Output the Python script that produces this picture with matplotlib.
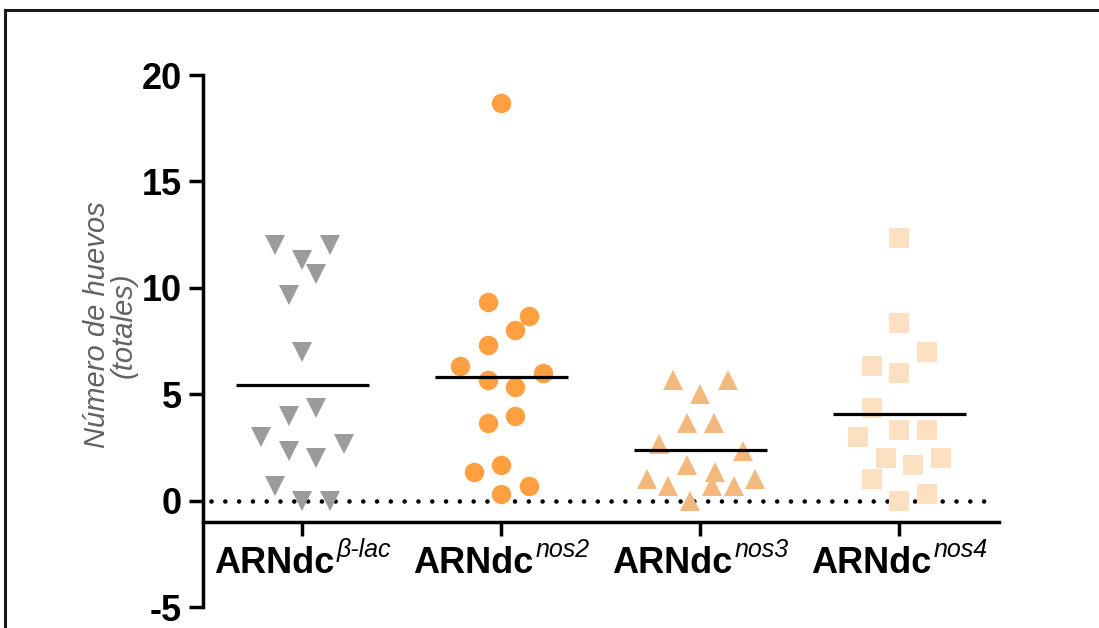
import matplotlib
matplotlib.use('Agg')
import matplotlib.pyplot as plt
from matplotlib.lines import Line2D
import numpy as np

# --- データ (各グループ n=15) ---
groups = ['ARNdc', 'ARNdc', 'ARNdc', 'ARNdc']
group_sup = ['β-lac', 'nos2', 'nos3', 'nos4']

blac = [12.0, 12.0, 11.33, 10.67, 9.67, 7.0, 4.33, 4.0, 3.0, 2.67, 2.33, 2.0, 0.67, 0.0, 0.0]
nos2 = [18.67, 9.33, 8.67, 8.0, 7.33, 6.33, 6.0, 5.67, 5.33, 4.0, 3.67, 1.67, 1.33, 0.67, 0.33]
nos3 = [5.67, 5.67, 5.0, 3.67, 3.67, 2.67, 2.33, 1.67, 1.33, 1.0, 1.0, 0.67, 0.67, 0.67, 0.0]
nos4 = [12.33, 8.33, 7.0, 6.33, 6.0, 4.33, 3.33, 3.33, 3.0, 2.0, 2.0, 1.67, 1.0, 0.33, 0.0]

# scatter の横ずれ (読み取り値)
blac_dx = [-0.14, 0.14, 0, 0.07, -0.07, 0, 0.07, -0.07, -0.21, 0.21, -0.07, 0.07, -0.14, 0, 0.14]
nos2_dx = [0, -0.07, 0.14, 0.07, -0.07, -0.21, 0.21, -0.07, 0.07, 0.07, -0.07, 0, -0.14, 0.14, 0]
nos3_dx = [-0.14, 0.14, 0, -0.07, 0.07, -0.21, 0.215, -0.068, 0.075, -0.27, 0.275, -0.163, 0.06, 0.166, -0.055]
nos4_dx = [0, 0, 0.14, -0.14, 0, -0.14, 0, 0.14, -0.21, -0.07, 0.21, 0.07, -0.14, 0.14, 0]

series = [blac, nos2, nos3, nos4]
offsets = [blac_dx, nos2_dx, nos3_dx, nos4_dx]
markers = ['v', 'o', '^', 's']
colors = ['#9b9b9f', '#ff9f40', '#f2b87e', '#fde0c2']

# --- フォント設定 ---
plt.rcParams['font.family'] = ['Liberation Sans', 'DejaVu Sans']
plt.rcParams['axes.unicode_minus'] = False

W, H = 1099, 628
fig = plt.figure(figsize=(W / 100, H / 100), dpi=100, facecolor='white')
ax = fig.add_axes([0.1847, 0.0334, 0.7243, 0.8471])
ax.patch.set_visible(False)

# ゼロの点線
ax.hlines(0, -0.46, 3.48, colors='black', linewidth=3.3,
          linestyles=(0, (0.01, 3.0)), capstyle='round', zorder=1)

for i, (vals, dx) in enumerate(zip(series, offsets)):
    x = i + np.array(dx)
    ax.plot(x, vals, linestyle='none', marker=markers[i], markersize=14,
            markerfacecolor=colors[i], markeredgewidth=0, zorder=2)
    m = np.mean(vals)
    ax.hlines(m, i - 0.334, i + 0.334, colors='black', linewidth=2.3, zorder=3)

ax.set_xlim(-0.5, 3.5)
ax.set_ylim(-5, 20)
ax.set_yticks([-5, 0, 5, 10, 15, 20])
ax.set_xticks(range(len(groups)))
ax.set_xticklabels([''] * len(groups))

# 軸 (GraphPad 風)
ax.spines['top'].set_visible(False)
ax.spines['right'].set_visible(False)
ax.spines['left'].set_linewidth(2.5)
ax.spines['bottom'].set_linewidth(2.5)
ax.spines['bottom'].set_position(('data', -1))
ax.tick_params(axis='y', length=10, width=2.5, labelsize=26, pad=5)
ax.tick_params(axis='x', length=10, width=2.5)
for lab in ax.get_yticklabels():
    lab.set_fontweight('bold')

# X軸ラベル: 太字 + イタリック上付き (手動配置)
inv = fig.transFigure.inverted()
renderer = fig.canvas.get_renderer()
base_y = 1 - 573 / H
sup_y = 1 - 557 / H
for i, (name, sup) in enumerate(zip(groups, group_sup)):
    t_main = fig.text(0, base_y, name, fontsize=26, fontweight='bold',
                      ha='left', va='baseline')
    t_sup = fig.text(0, sup_y, sup, fontsize=18, style='italic',
                     ha='left', va='baseline')
    w_main = t_main.get_window_extent(renderer).width
    w_sup = t_sup.get_window_extent(renderer).width
    gap = 2
    xc = ax.transData.transform((i, 0))[0]
    left = xc - (w_main + gap + w_sup) / 2
    t_main.set_x(inv.transform((left, 0))[0])
    t_sup.set_x(inv.transform((left + w_main + gap, 0))[0])

# Y軸ラベル
fig.text(110 / W, 1 - 325 / H, 'Número de huevos\n(totales)', rotation=90,
         ha='center', va='center', multialignment='center', fontsize=21,
         style='italic', color='#626262', linespacing=0.95)

# 外枠 (左と上のみ見える)
fig.add_artist(Line2D([5 / W, 5 / W], [0, 1 - 9.5 / H], color='#1a1a1a',
                      linewidth=2.2, transform=fig.transFigure))
fig.add_artist(Line2D([5 / W, 1], [1 - 9.5 / H, 1 - 9.5 / H], color='#1a1a1a',
                      linewidth=2.2, transform=fig.transFigure))

fig.savefig('out.png', dpi=100, facecolor='white')
